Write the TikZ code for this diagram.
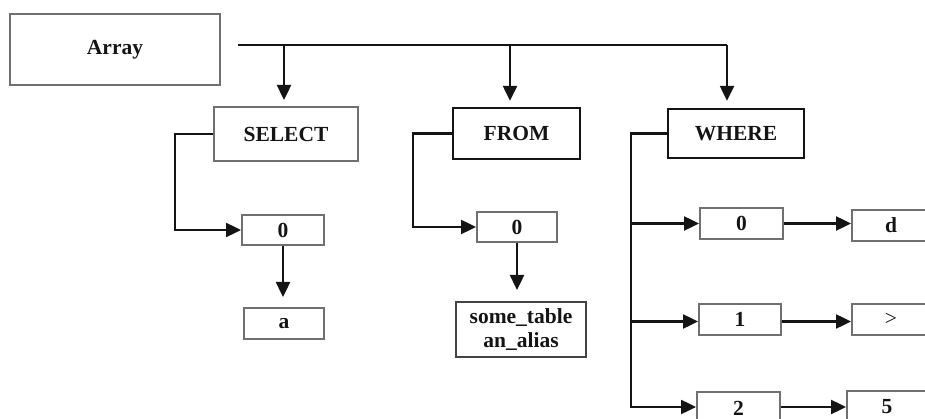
\documentclass[tikz,border=0pt]{standalone}
\usepackage{fontspec}
\setmainfont{Liberation Serif}
\usetikzlibrary{arrows.meta}
\definecolor{boxgray}{RGB}{112,112,112}
\definecolor{ink}{RGB}{20,20,20}
\tikzset{
  box/.style={draw=boxgray, line width=2pt, rectangle, inner sep=0pt,
    font=\fontsize{21.5}{24}\selectfont\bfseries, text=ink, align=center},
  darkbox/.style={box, draw=ink, line width=2.4pt},
  link/.style={draw=ink, line width=2.4pt},
  arr/.style={link, -{Triangle[width=14pt,length=15pt]}},
}
\begin{document}
\begin{tikzpicture}[x=1pt,y=-1pt]
  \fill[white] (0,0) rectangle (925,419);
  \useasboundingbox (0,0) rectangle (925,419);
  \clip (0,0) rectangle (925,419);

  % top level
  \node[box, minimum width=210, minimum height=71] (array) at (115,49.5) {Array};
  \node[box, minimum width=144, minimum height=54] (select) at (286,134) {SELECT};
  \node[darkbox, minimum width=127, minimum height=51] (from) at (516.5,133.5) {FROM};
  \node[darkbox, minimum width=136, minimum height=49] (where) at (736,133.5) {WHERE};

  % SELECT branch
  \node[box, minimum width=82, minimum height=30] (s0) at (283,230) {0};
  \node[box, minimum width=80, minimum height=31] (sa) at (284,323.5) {a};

  % FROM branch
  \node[box, minimum width=80, minimum height=30] (f0) at (517,227) {0};
  \node[box, draw=ink!80, minimum width=130, minimum height=55] (tbl) at (521,329.5)
    {some\_table\\an\_alias};

  % WHERE branch
  \node[box, minimum width=83, minimum height=31] (w0) at (741.5,223.5) {0};
  \node[box, minimum width=82, minimum height=31] (w1) at (740,319.5) {1};
  \node[box, minimum width=83, minimum height=32] (w2) at (738.5,408) {2};
  \node[box, minimum width=78, minimum height=31] (wd) at (891,225.5) {d};
  \node[box, minimum width=78, minimum height=31, font=\fontsize{21.5}{24}\selectfont] (wgt) at (891,319.5) {>};
  \node[box, minimum width=80, minimum height=32] (w5) at (887,407) {5};

  % distribution bus from Array
  \coordinate (busL) at (238,45);
  \coordinate (busR) at (727,45);
  \draw[link] (busL) -- (busR);
  \draw[arr, shorten >=6pt] ([xshift=-2pt]select.north |- busL) -- ([xshift=-2pt]select.north);
  \draw[arr, shorten >=6pt] ([xshift=-6.5pt]from.north |- busL) -- ([xshift=-6.5pt]from.north);
  \draw[arr, shorten >=7pt] (busR) -- (busR |- where.north);

  % SELECT -> 0 -> a
  \coordinate (sx) at (175,0);
  \draw[arr] (select.west) -- (sx |- select.west) |- (s0.west);
  \draw[arr, shorten >=10pt] (s0.south) -- ([xshift=-1pt]sa.north);

  % FROM -> 0 -> table
  \coordinate (fx) at (413,0);
  \draw[arr] (from.west) -- (fx |- from.west) |- (f0.west);
  \draw[arr, shorten >=11pt] (f0.south) -- (f0.south |- tbl.north);

  % WHERE -> conditions
  \coordinate (wx) at (631,0);
  \draw[arr] (where.west) -- (wx |- where.west) |- ([yshift=1pt]w2.west);
  \draw[arr] (wx |- w0.west) -- (w0.west);
  \draw[arr] ([yshift=-2pt]wx |- w1.west) -- ([yshift=-2pt]w1.west);
  \draw[arr] (w0.east) -- (w0.east -| wd.west);
  \draw[arr] ([yshift=-2pt]w1.east) -- ([yshift=-2pt]w1.east -| wgt.west);
  \draw[arr] ([yshift=1pt]w2.east) -- ([yshift=1pt]w2.east -| w5.west);
\end{tikzpicture}
\end{document}
